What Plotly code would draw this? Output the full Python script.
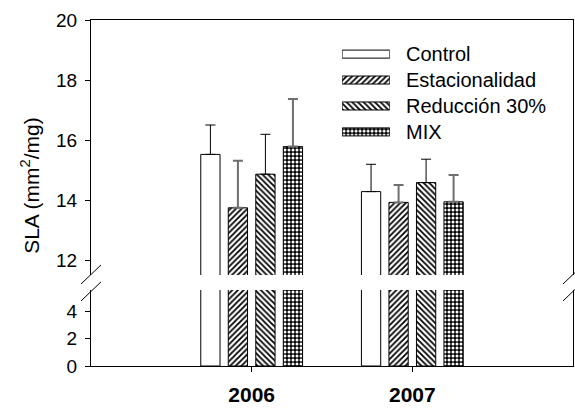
import plotly.graph_objects as go

# SLA by year and treatment
years = ["2006", "2007"]
treatments = ["Control", "Estacionalidad", "Reducción 30%", "MIX"]
sla_mean = {
    "Control": [15.52, 14.28],
    "Estacionalidad": [13.74, 13.92],
    "Reducción 30%": [14.86, 14.58],
    "MIX": [15.78, 13.94],
}
sla_err = {
    "Control": [0.98, 0.91],
    "Estacionalidad": [1.57, 0.58],
    "Reducción 30%": [1.33, 0.78],
    "MIX": [1.59, 0.89],
}
upper_ticks = [12, 14, 16, 18, 20]
lower_ticks = [0, 2, 4]

FONT = "Liberation Sans, Arial, sans-serif"

# fill pattern and error-bar style per treatment
styles = {
    "Control": dict(shape="", fg="black", bg="white", size=8, solid=0.3,
                    err_color="black", err_w=1),
    "Estacionalidad": dict(shape="/", fg="black", bg="white", size=4, solid=0.45,
                           err_color="#6e6e6e", err_w=2),
    "Reducción 30%": dict(shape="\\", fg="black", bg="white", size=4, solid=0.45,
                          err_color="black", err_w=1),
    "MIX": dict(shape=".", fg="white", bg="black", size=4, solid=0.45,
                err_color="#6e6e6e", err_w=2),
}

xpos = list(range(len(years)))


def bar_marker(st):
    return dict(
        color="white",
        line=dict(color="black", width=1),
        pattern=dict(shape=st["shape"], fgcolor=st["fg"], bgcolor=st["bg"],
                     size=st["size"], solidity=st["solid"], fillmode="replace"),
    )


fig = go.Figure()

for name in treatments:
    st = styles[name]
    # upper (broken) segment with error bars
    fig.add_trace(go.Bar(
        x=xpos, y=sla_mean[name], name=name, marker=bar_marker(st),
        xaxis="x", yaxis="y", showlegend=False,
        error_y=dict(type="data", symmetric=False, array=sla_err[name],
                     arrayminus=[0] * len(years), color=st["err_color"],
                     thickness=st["err_w"], width=5),
    ))
    # lower segment
    fig.add_trace(go.Bar(
        x=xpos, y=sla_mean[name], name=name, marker=bar_marker(st),
        xaxis="x2", yaxis="y2", showlegend=False,
    ))

# legend swatches drawn as horizontal bars in their own small axis
sts = [styles[n] for n in treatments]
fig.add_trace(go.Bar(
    y=treatments, x=[1] * len(treatments), orientation="h",
    xaxis="x3", yaxis="y3", showlegend=False, width=0.31,
    marker=dict(
        color="white", line=dict(color="black", width=1),
        pattern=dict(shape=[s["shape"] for s in sts],
                     fgcolor=[s["fg"] for s in sts],
                     bgcolor=[s["bg"] for s in sts],
                     size=[s["size"] for s in sts],
                     solidity=[s["solid"] for s in sts],
                     fillmode="replace"),
    ),
    hoverinfo="skip",
))

annotations = []
for n in treatments:
    annotations.append(dict(
        x=0.649, y=n, xref="paper", yref="y3", text=n, showarrow=False,
        xanchor="left", yanchor="middle", font=dict(size=20, color="black", family=FONT),
    ))
annotations.append(dict(
    x=-0.127, y=0.523, xref="paper", yref="paper",
    text="SLA (mm<sup>2</sup>/mg)", textangle=-90, showarrow=False,
    xanchor="center", yanchor="middle", font=dict(size=21, color="black", family=FONT),
))

# axis-break marks
breaks = []
for xc in (0.0, 1.0):
    for (y0, y1) in ((0.237, 0.292), (0.188, 0.243)):
        breaks.append(dict(type="line", xref="paper", yref="paper",
                           x0=xc - 0.0207, x1=xc + 0.0207, y0=y0, y1=y1,
                           line=dict(color="black", width=1)))

fig.update_layout(
    width=575, height=408,
    margin=dict(l=91, r=2, t=20, b=42),
    paper_bgcolor="white", plot_bgcolor="white",
    barmode="group", bargap=0.315, bargroupgap=0.3,
    font=dict(family=FONT, size=19, color="black"),
    showlegend=False,
    xaxis=dict(domain=[0, 1], anchor="y", range=[-1, 2], side="top",
               showline=True, linecolor="black", linewidth=1, automargin=False,
               showticklabels=False, ticks="", showgrid=False, zeroline=False),
    xaxis2=dict(domain=[0, 1], anchor="y2", range=[-1, 2], automargin=False,
                showline=True, linecolor="black", linewidth=1,
                tickvals=xpos, ticktext=["<b>%s</b>" % y for y in years],
                ticks="outside", ticklen=5, tickcolor="black", ticklabelstandoff=5,
                tickfont=dict(size=21, family=FONT), showgrid=False, zeroline=False),
    yaxis=dict(domain=[0.263, 1], anchor="x", range=[11.5, 20], automargin=False,
               tickvals=upper_ticks, ticks="outside", ticklen=5, tickcolor="black",
               ticklabelstandoff=4,
               showline=True, mirror=True, linecolor="black", linewidth=1,
               showgrid=False, zeroline=False, tickfont=dict(size=19)),
    yaxis2=dict(domain=[0, 0.2197], anchor="x2", range=[0, 5.53], automargin=False,
                tickvals=lower_ticks, ticks="outside", ticklen=5, tickcolor="black",
                ticklabelstandoff=4,
                showline=True, mirror=True, linecolor="black", linewidth=1,
                showgrid=False, zeroline=False, tickfont=dict(size=19)),
    xaxis3=dict(domain=[0.521, 0.620], anchor="y3", range=[0, 1], visible=False,
                automargin=False),
    yaxis3=dict(domain=[0.639, 0.939], anchor="x3", autorange="reversed",
                type="category", visible=False, automargin=False),
    annotations=annotations,
    shapes=breaks,
)

fig.write_html("out.html")
